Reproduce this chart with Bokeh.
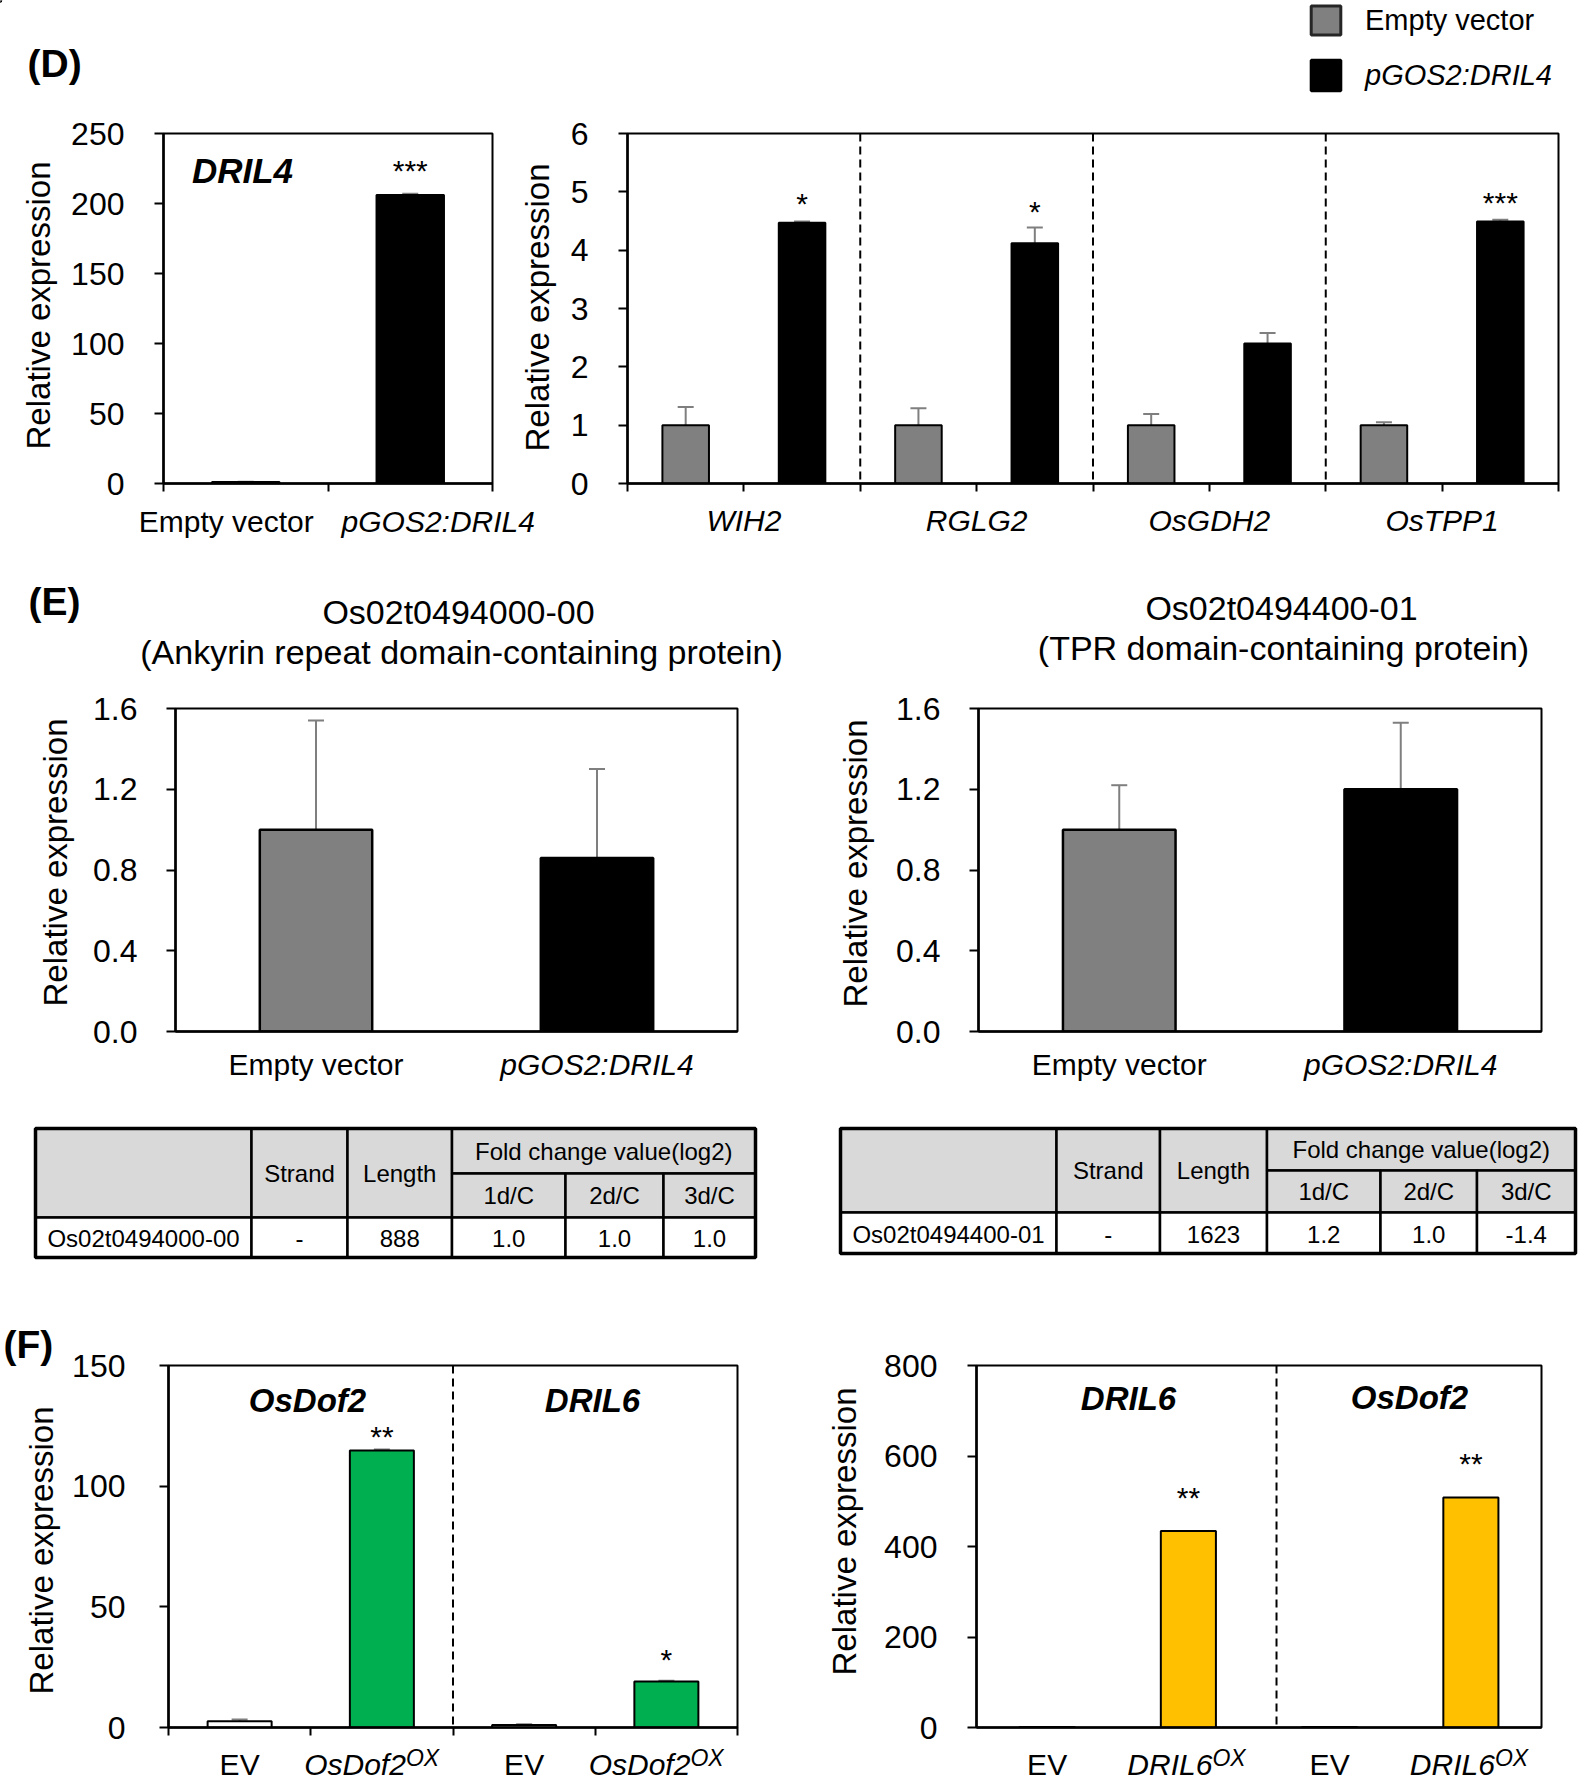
import math
from bokeh.plotting import figure
from bokeh.models import (Range1d, FixedTicker, NumeralTickFormatter, Label, Span, Whisker,
                          TeeHead, ColumnDataSource, Legend, LegendItem)
from bokeh.layouts import column, row
from bokeh.embed import file_html
from bokeh.resources import INLINE
from bokeh.core.properties import value

FONT = "Liberation Sans"
GRAY = "#808080"
BLACK = "#000000"
WHITE = "#FFFFFF"
GREEN = "#00B050"
YELLOW = "#FFC000"
ERRC = "#7F7F7F"
HEADER_FILL = "#D9D9D9"
W, H = 1592, 1785

# ---------------- data ----------------
# (D) left : DRIL4 expression
d4_groups = ["Empty vector", "pGOS2:DRIL4"]
d4_vals = [1.0, 206.0]
d4_errs = [0.3, 1.0]
d4_stars = ["", "***"]
d4_ticks = [0, 50, 100, 150, 200, 250]

# (D) right : target genes
dr_genes = ["WIH2", "RGLG2", "OsGDH2", "OsTPP1"]
dr_ev = [1.0, 1.0, 1.0, 1.0]
dr_ev_err = [0.31, 0.29, 0.19, 0.05]
dr_ox = [4.47, 4.12, 2.40, 4.49]
dr_ox_err = [0.02, 0.27, 0.18, 0.03]
dr_stars = ["*", "*", "", "***"]
dr_ticks = [0, 1, 2, 3, 4, 5, 6]
legend_labels = ["Empty vector", "pGOS2:DRIL4"]

# (E)
e_groups = ["Empty vector", "pGOS2:DRIL4"]
e1_vals = [1.0, 0.86]
e1_errs = [0.54, 0.44]
e2_vals = [1.0, 1.20]
e2_errs = [0.22, 0.33]
e_ticks = [0.0, 0.4, 0.8, 1.2, 1.6]
e1_title = ["Os02t0494000-00", "(Ankyrin repeat domain-containing protein)"]
e2_title = ["Os02t0494400-01", "(TPR domain-containing protein)"]
tbl_header = ["", "Strand", "Length", "Fold change value(log2)"]
tbl_sub = ["1d/C", "2d/C", "3d/C"]
tbl1_row = ["Os02t0494000-00", "-", "888", "1.0", "1.0", "1.0"]
tbl2_row = ["Os02t0494400-01", "-", "1623", "1.2", "1.0", "-1.4"]

# (F)
f1_genes = ["OsDof2", "DRIL6"]
f1_ox_name = "OsDof2"
f1_ev = [2.6, 1.0]
f1_ev_err = [0.7, 0.3]
f1_ox = [114.8, 19.1]
f1_ox_err = [0.4, 0.3]
f1_stars = ["**", "*"]
f1_ticks = [0, 50, 100, 150]

f2_genes = ["DRIL6", "OsDof2"]
f2_ox_name = "DRIL6"
f2_ev = [1.0, 1.0]
f2_ox = [434.0, 508.5]
f2_stars = ["**", "**"]
f2_ticks = [0, 200, 400, 600, 800]
sup_text = "OX"
ev_text = "EV"
ylab = "Relative expression"
panel_letters = ["(D)", "(E)", "(F)"]

# ---------------- layout frames (page pixels: left, top, right, bottom) ----------------
DL = (163, 133, 492, 483)
DR = (627, 133, 1558, 483)
EL = (175, 708, 737, 1031)
ER = (978, 708, 1541, 1031)
FL = (168, 1365, 737, 1728)
FR = (976, 1361, 1541, 1727)

# text that sits outside the chart frames is collected and drawn on a transparent overlay
overlay_texts = []


def otext(X, Y, text, size, style="normal", align="center", angle=0.0):
    overlay_texts.append(dict(x=X, y=Y, text=text, size=size, style=style, align=align,
                              angle=angle))


def centers(frame, n):
    l, t, r, b = frame
    return [l + (i + 0.5) * (r - l) / n for i in range(n)]


# ---------------- helpers ----------------
def make_fig(x0, y0, w, h, frame, xr, yr):
    l, t, r, b = frame
    p = figure(width=w, height=h, x_range=xr, y_range=yr, output_backend="svg",
               toolbar_location=None,
               min_border_left=l - x0, min_border_top=t - y0,
               min_border_right=x0 + w - r, min_border_bottom=y0 + h - b)
    p.xgrid.visible = False
    p.ygrid.visible = False
    p.outline_line_color = "black"
    p.outline_line_width = 2
    p.outline_line_alpha = 1.0
    return p


def style_y(p, ticks, standoff, fmt="0"):
    ax = p.yaxis[0]
    ax.ticker = FixedTicker(ticks=ticks)
    ax.formatter = NumeralTickFormatter(format=fmt)
    ax.axis_line_width = 2.5
    ax.axis_line_color = "black"
    ax.major_tick_line_width = 2
    ax.major_tick_line_color = "black"
    ax.major_tick_out = 9
    ax.major_tick_in = 0
    ax.minor_tick_line_color = None
    ax.major_label_standoff = standoff
    ax.major_label_text_font = FONT
    ax.major_label_text_font_size = "32px"
    ax.major_label_text_color = "black"


def style_x(p, bounds, ticks=(), labels=None, standoff=12):
    ax = p.xaxis[0]
    ax.ticker = FixedTicker(ticks=list(ticks), minor_ticks=list(bounds))
    ax.axis_line_width = 2.5
    ax.axis_line_color = "black"
    ax.major_tick_out = 0
    ax.major_tick_in = 0
    ax.major_tick_line_color = None
    ax.minor_tick_out = 8
    ax.minor_tick_in = 0
    ax.minor_tick_line_width = 2
    ax.minor_tick_line_color = "black" if len(bounds) else None
    if labels:
        ax.major_label_overrides = labels
        ax.major_label_standoff = standoff
        ax.major_label_text_font = FONT
        ax.major_label_text_font_size = "30px"
        ax.major_label_text_font_style = "italic"
        ax.major_label_text_color = "black"
    else:
        ax.major_label_text_font_size = "0px"
        ax.major_label_standoff = 0


def add_err(p, xs, vals, errs):
    src = ColumnDataSource(dict(x=list(xs), lo=list(vals),
                                hi=[v + e for v, e in zip(vals, errs)]))
    w = Whisker(base="x", lower="lo", upper="hi", source=src, dimension="height",
                line_color=ERRC, line_width=2,
                upper_head=TeeHead(size=16, line_color=ERRC, line_width=2),
                lower_head=None)
    p.add_layout(w)


STAR_FS = 30
STAR_BASE = 2.5   # empirical: px between the text anchor and the asterisk centre


def add_stars(p, xs, vals, errs, stars, lift):
    # lift: distance in px between the error-bar top and the asterisk centre
    src = ColumnDataSource(dict(x=list(xs), y=[v + e for v, e in zip(vals, errs)],
                                t=list(stars), dy=[STAR_BASE - d for d in lift]))
    p.text(x="x", y="y", text="t", y_offset="dy", source=src,
           text_font=value(FONT), text_font_size=value(f"{STAR_FS}px"),
           text_align="center", text_baseline="middle", text_color="black")


def add_inner_text(p, frame, X, Y, text, size, style="bold italic"):
    # text inside the frame (gene names)
    l, t, r, b = frame
    p.add_layout(Label(x=X - l, y=b - Y, x_units="screen", y_units="screen", text=text,
                       text_font=FONT, text_font_size=f"{size}px", text_font_style=style,
                       text_align="center", text_baseline="middle", text_color="black"))


# ---------------- (D) left ----------------
n = len(d4_groups)
dl = make_fig(0, 0, 555, 553, DL, Range1d(0, n), Range1d(0, d4_ticks[-1]))
style_y(dl, d4_ticks, 30)
style_x(dl, range(n + 1))
xs = [i + 0.5 for i in range(n)]
dl.vbar(x=xs, top=d4_vals, width=0.41, fill_color=[GRAY, BLACK], line_color="black",
        line_width=2)
add_err(dl, xs, d4_vals, d4_errs)
add_stars(dl, xs, d4_vals, d4_errs, d4_stars, [26, 26])
add_inner_text(dl, DL, 242, 170, "DRIL4", 35)
otext(27, 63, panel_letters[0], 39, style="bold", align="left")
otext(38, 305, ylab, 33, angle=math.pi / 2)
for cx, g, dx, st in zip(centers(DL, n), d4_groups, [-19.5, 28], ["normal", "italic"]):
    otext(cx + dx, 521, g, 30, style=st)

# ---------------- (D) right ----------------
ng = len(dr_genes)
dr = make_fig(555, 0, 1037, 553, DR, Range1d(0, 2 * ng), Range1d(0, dr_ticks[-1]))
style_y(dr, dr_ticks, 30)
style_x(dr, range(2 * ng + 1), ticks=[2 * g + 1 for g in range(ng)],
        labels={2 * g + 1: name for g, name in enumerate(dr_genes)}, standoff=12)
x_ev = [2 * g + 0.5 for g in range(ng)]
x_ox = [2 * g + 1.5 for g in range(ng)]
dr.vbar(x=x_ev, top=dr_ev, width=0.4, fill_color=GRAY, line_color="black", line_width=2)
dr.vbar(x=x_ox, top=dr_ox, width=0.4, fill_color=BLACK, line_color="black", line_width=2)
add_err(dr, x_ev, dr_ev, dr_ev_err)
add_err(dr, x_ox, dr_ox, dr_ox_err)
add_stars(dr, x_ox, dr_ox, dr_ox_err, dr_stars, [21, 18, 19, 20])
for g in range(1, ng):
    dr.add_layout(Span(location=2 * g, dimension="height", line_color="black",
                       line_width=2, line_dash="8 5"))
otext(537, 307, ylab, 33, angle=math.pi / 2)


# ---------------- (E) ----------------
def e_chart(x0, w, frame, vals, errs, title, title_pos, ylab_pos):
    n = len(e_groups)
    p = make_fig(x0, 553, w, 545, frame, Range1d(0, n), Range1d(0, e_ticks[-1]))
    style_y(p, e_ticks, 29, fmt="0.0")
    style_x(p, [])
    xs = [i + 0.5 for i in range(n)]
    p.vbar(x=xs, top=vals, width=0.4, fill_color=[GRAY, BLACK], line_color="black",
           line_width=2.5)
    add_err(p, xs, vals, errs)
    for cx, g, st in zip(centers(frame, n), e_groups, ["normal", "italic"]):
        otext(cx, 1064, g, 30, style=st)
    for txt, (X, Y) in zip(title, title_pos):
        otext(X, Y, txt, 34)
    otext(ylab_pos[0], ylab_pos[1], ylab, 33, angle=math.pi / 2)
    return p


el = e_chart(0, 810, EL, e1_vals, e1_errs, e1_title, [(458, 611), (461, 651)], (55, 862))
er = e_chart(810, 782, ER, e2_vals, e2_errs, e2_title, [(1281, 607), (1283, 647)], (855, 863))
otext(28, 601, panel_letters[1], 39, style="bold", align="left")


# ---------------- tables ----------------
def make_table(x0, w, cols, rows, data_row):
    p = figure(width=w, height=192, x_range=Range1d(x0, x0 + w), y_range=Range1d(1290, 1098),
               x_axis_location=None, y_axis_location=None, toolbar_location=None,
               output_backend="svg", min_border=0)
    p.outline_line_color = None
    p.grid.visible = False
    c, r = cols, rows
    gray = dict(left=[c[0], c[1], c[2], c[3], c[3], c[4], c[5]],
                right=[c[1], c[2], c[3], c[6], c[4], c[5], c[6]],
                top=[r[0], r[0], r[0], r[0], r[1], r[1], r[1]],
                bottom=[r[2], r[2], r[2], r[1], r[2], r[2], r[2]])
    p.quad(left="left", right="right", top="top", bottom="bottom",
           source=ColumnDataSource(gray), fill_color=HEADER_FILL, line_color="black",
           line_width=2.5)
    p.quad(left=c[:6], right=c[1:], top=[r[2]] * 6, bottom=[r[3]] * 6, fill_color=WHITE,
           line_color="black", line_width=2.5)
    p.quad(left=[c[0]], right=[c[6]], top=[r[0]], bottom=[r[3]], fill_alpha=0,
           line_color="black", line_width=3.5)
    tx, ty, tt = [], [], []
    tx += [(c[1] + c[2]) / 2, (c[2] + c[3]) / 2, (c[3] + c[6]) / 2]
    ty += [(r[0] + r[2]) / 2, (r[0] + r[2]) / 2, (r[0] + r[1]) / 2]
    tt += tbl_header[1:]
    for k, s in enumerate(tbl_sub):
        tx.append((c[3 + k] + c[4 + k]) / 2)
        ty.append((r[1] + r[2]) / 2)
        tt.append(s)
    for k, s in enumerate(data_row):
        tx.append((c[k] + c[k + 1]) / 2)
        ty.append((r[2] + r[3]) / 2 + 1)
        tt.append(s)
    p.text(x=tx, y=ty, text=tt, text_font=value(FONT), text_font_size=value("24px"),
           text_align="center", text_baseline="middle", text_color="black")
    return p


tl = make_table(0, 810, [35, 251, 347, 451.5, 565, 663, 755], [1128, 1173, 1217, 1257], tbl1_row)
tr = make_table(810, 782, [840, 1056, 1159.5, 1266.5, 1380, 1476.5, 1575],
                [1128, 1170, 1212, 1253], tbl2_row)


# ---------------- (F) ----------------
def f_chart(x0, w, frame, genes, ev, ox, ox_name, fill, stars, lift, ticks, standoff,
            bar_w, seps, ylab_pos, gene_pos, ev_err=None, ox_err=None, bounds=True):
    ng = len(genes)
    p = make_fig(x0, 1290, w, 495, frame, Range1d(0, 2 * ng), Range1d(0, ticks[-1]))
    style_y(p, ticks, standoff)
    style_x(p, range(2 * ng + 1) if bounds else [])
    x_ev = [2 * g + 0.5 for g in range(ng)]
    x_ox = [2 * g + 1.5 for g in range(ng)]
    p.vbar(x=x_ev, top=ev, width=bar_w, fill_color=WHITE, line_color="black", line_width=2)
    p.vbar(x=x_ox, top=ox, width=bar_w, fill_color=fill, line_color="black", line_width=2)
    if ev_err is not None:
        add_err(p, x_ev, ev, ev_err)
    if ox_err is not None:
        add_err(p, x_ox, ox, ox_err)
    e = ox_err if ox_err is not None else [0] * ng
    add_stars(p, x_ox, ox, e, stars, lift)
    for s in seps:
        p.add_layout(Span(location=s, dimension="height", line_color="black",
                          line_width=2, line_dash="8 5"))
    for g, (X, Y) in zip(genes, gene_pos):
        add_inner_text(p, frame, X, Y, g, 33)
    cs = centers(frame, 2 * ng)
    for g in range(ng):
        otext(cs[2 * g], 1764, ev_text, 30)
        otext(cs[2 * g + 1] + 24, 1764, ox_name, 30, style="italic", align="right")
        otext(cs[2 * g + 1] + 24, 1757, sup_text, 23, style="italic", align="left")
    otext(ylab_pos[0], ylab_pos[1], ylab, 33, angle=math.pi / 2)
    return p


fl = f_chart(0, 790, FL, f1_genes, f1_ev, f1_ox, f1_ox_name, GREEN, f1_stars, [15, 23.5],
             f1_ticks, 34, 0.45, [2], (41, 1550), [(307, 1401), (592, 1401)],
             ev_err=f1_ev_err, ox_err=f1_ox_err)
fr = f_chart(790, 802, FR, f2_genes, f2_ev, f2_ox, f2_ox_name, YELLOW, f2_stars, [36, 36],
             f2_ticks, 30, 0.39, [2.124], (844, 1531), [(1128, 1398), (1409, 1397)],
             bounds=False)
otext(3, 1344, panel_letters[2], 39, style="bold", align="left")

# ---------------- transparent overlay for texts outside the frames + legend ----------------
ov = figure(width=W, height=H, x_range=Range1d(0, W), y_range=Range1d(H, 0),
            x_axis_location=None, y_axis_location=None, toolbar_location=None,
            output_backend="svg", min_border=0, margin=(-H, 0, 0, 0))
ov.outline_line_color = None
ov.background_fill_color = None
ov.border_fill_color = None
ov.grid.visible = False
for t in overlay_texts:
    ov.text(x=[t["x"]], y=[t["y"]], text=[t["text"]], angle=t["angle"],
            text_font=value(FONT), text_font_size=value(f"{t['size']}px"),
            text_font_style=t["style"], text_align=t["align"], text_baseline="middle",
            text_color="black")

# legend swatches: renderers styled like the panel-D bars, their only point lies off-canvas
leg_ev = ov.vbar(x=[-1000], top=[1], width=1, fill_color=GRAY, line_color="#262626",
                 line_width=3)
leg_ox = ov.vbar(x=[-1000], top=[1], width=1, fill_color=BLACK, line_color="black",
                 line_width=3)
for lab, rend, bottom, st in zip(legend_labels, [leg_ev, leg_ox], [38, 94], ["normal", "italic"]):
    lg = Legend(items=[LegendItem(label=value(lab), renderers=[rend], index=0)],
                location=(1307, H - bottom))
    lg.glyph_width = 37
    lg.glyph_height = 36 if st == "normal" else 38
    lg.label_height = lg.glyph_height
    lg.label_standoff = 21
    lg.padding = 0
    lg.margin = 0
    lg.spacing = 0
    lg.border_line_color = None
    lg.background_fill_alpha = 0
    lg.label_text_font = FONT
    lg.label_text_font_size = "29px"
    lg.label_text_font_style = st
    lg.label_text_color = "black"
    ov.add_layout(lg)

charts = column(row(dl, dr), row(el, er), row(tl, tr), row(fl, fr))
layout = column(charts, ov)

with open("out.html", "w") as f:
    f.write(file_html(layout, INLINE, "Relative expression"))
